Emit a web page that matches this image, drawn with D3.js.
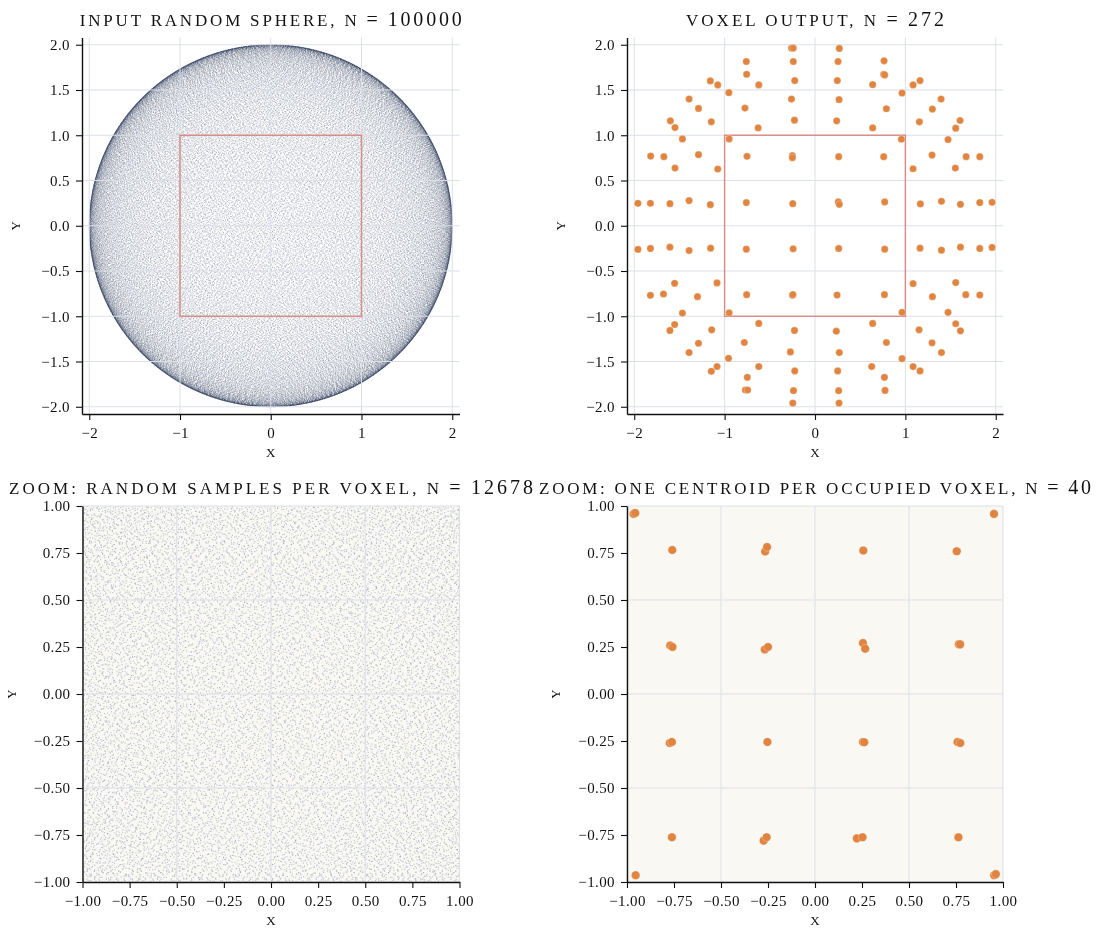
<!DOCTYPE html>
<html>
<head>
<meta charset="utf-8">
<script src="https://cdnjs.cloudflare.com/ajax/libs/d3/7.8.5/d3.min.js"></script>
<style>
  body { margin: 0; background: #fff; }
  #chart { position: relative; width: 1101px; height: 934px; }
  #chart svg, #chart canvas { position: absolute; left: 0; top: 0; }
  text { font-family: "Liberation Serif", "DejaVu Serif", serif; fill: #111; }
  .label { font-size: 13px; }
  .tick text { font-size: 15px; letter-spacing: 0.4px; font-family: "Liberation Serif", "DejaVu Serif", serif; fill: #111; }
</style>
</head>
<body>
<div id="chart"></div>
<script>
// input cloud: 100000 samples on a sphere of radius 2. The random draw itself
// can't be read off the picture, so a deterministic Halton (2, 3) set stands in.
const sphereCount = 100000;
const sphereRadius = 2;

// voxel centroids (x, y)
const voxelCentroids = [
  [-0.26, 1.963], [-0.24, 1.963], [-0.24, 1.815], [-0.76, 1.815], [-0.756, 1.674],
  [-1.158, 1.6], [-1.076, 1.556], [-0.622, 1.556], [-0.224, 1.604], [-0.953, 1.47],
  [-1.393, 1.4], [-1.289, 1.296], [-0.775, 1.3], [-0.26, 1.4], [-1.6, 1.159],
  [-1.549, 1.085], [-1.147, 1.148], [-0.629, 1.081], [-0.227, 1.167], [-1.467, 0.959],
  [-0.95, 0.959], [-1.818, 0.77], [-1.672, 0.763], [-1.289, 0.785], [-0.752, 0.767],
  [-0.25, 0.774], [-0.25, 0.752], [-1.549, 0.637], [-1.076, 0.626], [-1.959, 0.248],
  [-1.821, 0.248], [-1.605, 0.244], [-1.393, 0.278], [-1.158, 0.233], [-0.76, 0.256],
  [-0.246, 0.244],
  [0.269, 1.959], [0.255, 1.815], [0.764, 1.822], [0.76, 1.674], [0.771, 1.667],
  [0.247, 1.604], [0.638, 1.559], [1.085, 1.556], [1.162, 1.604], [0.963, 1.467],
  [0.266, 1.393], [0.79, 1.293], [1.395, 1.4], [1.299, 1.289], [0.24, 1.159],
  [0.638, 1.081], [1.155, 1.148], [1.605, 1.163], [1.557, 1.078], [0.956, 0.956],
  [1.472, 0.952], [0.262, 0.763], [0.76, 0.763], [1.295, 0.781], [1.672, 0.763],
  [1.823, 0.763], [1.085, 0.63], [1.553, 0.637], [0.258, 0.263], [0.269, 0.237],
  [0.771, 0.263], [1.166, 0.241], [1.399, 0.27], [1.609, 0.237], [1.823, 0.256],
  [1.959, 0.259],
  [-1.959, -0.262], [-1.821, -0.251], [-1.605, -0.237], [-1.393, -0.274], [-1.155, -0.248],
  [-0.76, -0.259], [-0.242, -0.255], [-1.821, -0.769], [-1.676, -0.754], [-1.553, -0.636],
  [-1.3, -0.784], [-1.084, -0.632], [-0.756, -0.762], [-0.25, -0.769], [-0.244, -0.76],
  [-1.467, -0.965], [-0.95, -0.961], [-1.605, -1.157], [-1.553, -1.091], [-1.143, -1.15],
  [-0.622, -1.079], [-0.227, -1.157], [-1.289, -1.298], [-0.782, -1.29], [-1.393, -1.401],
  [-0.272, -1.394], [-0.957, -1.464], [-1.084, -1.556], [-1.147, -1.608], [-0.622, -1.556],
  [-0.749, -1.675], [-0.77, -1.815], [-0.745, -1.815], [-0.224, -1.604], [-0.238, -1.822],
  [-0.246, -1.959],
  [0.262, -0.251], [0.771, -0.259], [1.162, -0.248], [1.399, -0.27], [1.609, -0.237],
  [1.823, -0.251], [1.959, -0.24], [0.244, -0.765], [0.768, -0.762], [1.085, -0.64],
  [1.299, -0.784], [1.557, -0.628], [1.668, -0.762], [1.823, -0.765], [0.963, -0.957],
  [1.472, -0.957], [0.236, -1.165], [0.638, -1.079], [1.151, -1.15], [1.557, -1.083],
  [1.609, -1.161], [0.79, -1.29], [1.295, -1.294], [0.269, -1.401], [1.399, -1.401],
  [0.963, -1.468], [0.627, -1.556], [1.085, -1.556], [1.162, -1.604], [0.251, -1.604],
  [0.768, -1.675], [0.775, -1.819], [0.262, -1.822], [0.266, -1.959],
];

// centroids inside the zoom window
const zoomCentroids = [
  [-0.965, 0.958], [-0.956, 0.963], [-0.759, 0.766], [-0.265, 0.758], [-0.255, 0.782],
  [0.257, 0.763], [0.754, 0.759], [0.952, 0.958], [-0.77, 0.258], [-0.758, 0.25],
  [-0.267, 0.237], [-0.25, 0.25], [0.255, 0.271], [0.267, 0.241], [0.765, 0.265],
  [0.772, 0.264],
  [-0.773, -0.261], [-0.761, -0.255], [-0.253, -0.255], [0.255, -0.255], [0.262, -0.257],
  [0.758, -0.255], [0.773, -0.261], [-0.761, -0.762], [-0.273, -0.78], [-0.257, -0.762],
  [0.223, -0.768], [0.253, -0.762], [0.763, -0.762], [-0.954, -0.964], [0.953, -0.964],
  [0.962, -0.958],
];

const zoomWindow = [[-1, 1], [1, -1]];

const wideTicksX = [-2, -1, 0, 1, 2];
const wideTicksY = [-2, -1.5, -1, -0.5, 0, 0.5, 1, 1.5, 2];
const zoomTicks = [-1, -0.75, -0.5, -0.25, 0, 0.25, 0.5, 0.75, 1];
const voxelGrid = [-1, -0.5, 0, 0.5, 1];

const titles = [
  "input random sphere, n = 100000",
  "voxel output, n = 272",
  "zoom: random samples per voxel, n = 12678",
  "zoom: one centroid per occupied voxel, n = 40",
];

const W = 1101;
const H = 934;
const orange = "#e1843f";

const panels = [
  { left: 82, right: 459.5, top: 37.5, bottom: 414, lim: 2.08, ticksX: wideTicksX, ticksY: wideTicksY,
    gridX: wideTicksX, gridY: wideTicksY, fmtX: d3.format("d"), fmtY: d3.format(".1f"), bg: null,
    yLabelOff: 62, titleWidth: 382 },
  { left: 627, right: 1003, top: 37.5, bottom: 414, lim: 2.08, ticksX: wideTicksX, ticksY: wideTicksY,
    gridX: wideTicksX, gridY: wideTicksY, fmtX: d3.format("d"), fmtY: d3.format(".1f"), bg: null,
    yLabelOff: 62, titleWidth: 258 },
  { left: 82.5, right: 459.5, top: 506, bottom: 882, lim: 1, ticksX: zoomTicks, ticksY: zoomTicks,
    gridX: voxelGrid, gridY: voxelGrid, fmtX: d3.format(".2f"), fmtY: d3.format(".2f"), bg: "#f9f8f3",
    yLabelOff: 67, titleWidth: 524 },
  { left: 627, right: 1003, top: 506, bottom: 882, lim: 1, ticksX: zoomTicks, ticksY: zoomTicks,
    gridX: voxelGrid, gridY: voxelGrid, fmtX: d3.format(".2f"), fmtY: d3.format(".2f"), bg: "#f9f8f3",
    yLabelOff: 67, titleWidth: 552 },
];
panels.forEach((p, i) => {
  p.x = d3.scaleLinear().domain([-p.lim, p.lim]).range([p.left, p.right]);
  p.y = d3.scaleLinear().domain([-p.lim, p.lim]).range([p.bottom, p.top]);
  p.title = titles[i];
});

function halton(i, base) {
  let f = 1;
  let r = 0;
  while (i > 0) {
    f /= base;
    r += f * (i % base);
    i = Math.floor(i / base);
  }
  return r;
}

// sphere samples, shown as their (x, z) projection
const spherePoints = d3.range(sphereCount).map((i) => {
  const z = sphereRadius * (2 * halton(i + 1, 2) - 1);
  const r = Math.sqrt(sphereRadius * sphereRadius - z * z);
  return [r * Math.cos(2 * Math.PI * halton(i + 1, 3)), z];
});
const windowPoints = spherePoints.filter((d) => Math.abs(d[0]) <= 1 && Math.abs(d[1]) <= 1);

const chart = d3.select("#chart");

// back layer: panel backgrounds
const back = chart.append("svg").attr("width", W).attr("height", H);
back.append("rect").attr("width", W).attr("height", H).attr("fill", "#fff");
panels.filter((p) => p.bg).forEach((p) => {
  back.append("rect")
    .attr("x", p.left).attr("y", p.top)
    .attr("width", p.right - p.left).attr("height", p.bottom - p.top)
    .attr("fill", p.bg);
});

// middle layer: the dense sample clouds
const canvas = chart.append("canvas").attr("width", W).attr("height", H).node();
const ctx = canvas.getContext("2d");

function drawCloud(p, points, color, size) {
  ctx.save();
  ctx.beginPath();
  ctx.rect(p.left, p.top, p.right - p.left, p.bottom - p.top);
  ctx.clip();
  ctx.fillStyle = color;
  const h = size / 2;
  points.forEach((d) => {
    ctx.fillRect(p.x(d[0]) - h, p.y(d[1]) - h, size, size);
  });
  ctx.restore();
}
drawCloud(panels[0], spherePoints, "rgba(30, 46, 78, 0.27)", 0.85);
drawCloud(panels[2], windowPoints, "rgba(110, 126, 160, 0.45)", 1.1);

// front layer: grid, window square, centroids, axes, text
const svg = chart.append("svg").attr("width", W).attr("height", H);

panels.forEach((p) => {
  const g = svg.append("g");
  g.selectAll("line.gx").data(p.gridX).join("line")
    .attr("class", "gx")
    .attr("x1", (d) => p.x(d)).attr("x2", (d) => p.x(d))
    .attr("y1", p.top).attr("y2", p.bottom)
    .attr("stroke", "#dcdfe8").attr("stroke-width", 1);
  g.selectAll("line.gy").data(p.gridY).join("line")
    .attr("class", "gy")
    .attr("y1", (d) => p.y(d)).attr("y2", (d) => p.y(d))
    .attr("x1", p.left).attr("x2", p.right)
    .attr("stroke", "#dcdfe8").attr("stroke-width", 1);
});

[panels[0], panels[1]].forEach((p) => {
  svg.append("rect")
    .attr("x", p.x(zoomWindow[0][0])).attr("y", p.y(zoomWindow[0][1]))
    .attr("width", p.x(zoomWindow[1][0]) - p.x(zoomWindow[0][0]))
    .attr("height", p.y(zoomWindow[1][1]) - p.y(zoomWindow[0][1]))
    .attr("fill", "none")
    .attr("stroke", "#d4716b")
    .attr("stroke-opacity", 0.75)
    .attr("stroke-width", 1.5);
});

function drawCentroids(p, data, r) {
  svg.append("g").selectAll("circle").data(data).join("circle")
    .attr("cx", (d) => p.x(d[0]))
    .attr("cy", (d) => p.y(d[1]))
    .attr("r", r)
    .attr("fill", orange)
    .attr("stroke", "#fff")
    .attr("stroke-width", 0.4)
    .attr("stroke-opacity", 0.7);
}
drawCentroids(panels[1], voxelCentroids, 3.6);
drawCentroids(panels[3], zoomCentroids, 4.3);

// small-caps look: letters as smaller capitals, digits and "=" full size
function smallCapsTitle(sel, str) {
  str.split(/([0-9=]+)/).filter((s) => s.length).forEach((part) => {
    const full = /[0-9=]/.test(part);
    sel.append("tspan")
      .attr("font-size", full ? 20 : 17)
      .text(full ? part : part.toUpperCase());
  });
}

panels.forEach((p) => {
  const xAxis = svg.append("g")
    .attr("transform", `translate(0,${p.bottom})`)
    .call(d3.axisBottom(p.x).tickValues(p.ticksX).tickFormat(p.fmtX)
      .tickSize(6).tickPadding(7).tickSizeOuter(0));
  const yAxis = svg.append("g")
    .attr("transform", `translate(${p.left},0)`)
    .call(d3.axisLeft(p.y).tickValues(p.ticksY).tickFormat(p.fmtY)
      .tickSize(6).tickPadding(6).tickSizeOuter(0));
  [xAxis, yAxis].forEach((a) => {
    a.select(".domain").attr("stroke", "#111").attr("stroke-width", 1.4);
    a.selectAll(".tick line").attr("stroke", "#111").attr("stroke-width", 1.1);
  });

  const cx = (p.left + p.right) / 2;
  const cy = (p.top + p.bottom) / 2;
  const title = svg.append("text")
    .attr("x", cx).attr("y", p.top - 12)
    .attr("text-anchor", "middle")
    .attr("textLength", p.titleWidth)
    .attr("lengthAdjust", "spacing");
  smallCapsTitle(title, p.title);

  svg.append("text").attr("class", "label")
    .attr("x", cx).attr("y", p.bottom + 43)
    .attr("text-anchor", "middle")
    .text("X");
  svg.append("text").attr("class", "label")
    .attr("transform", `translate(${p.left - p.yLabelOff},${cy}) rotate(-90)`)
    .attr("text-anchor", "middle")
    .text("Y");
});
</script>
</body>
</html>
